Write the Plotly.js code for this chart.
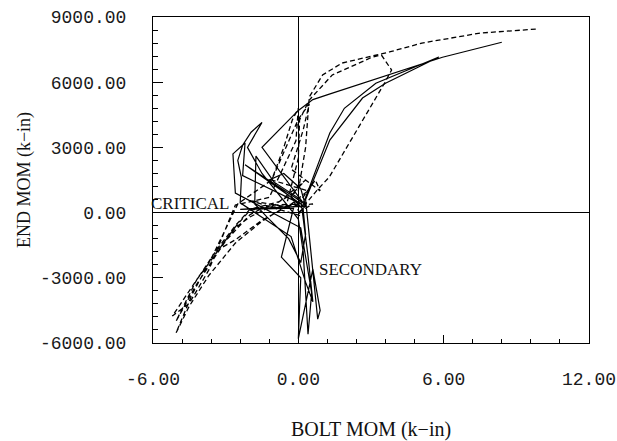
<!DOCTYPE html>
<html>
<head>
<meta charset="utf-8">
<script src="https://cdn.plot.ly/plotly-3.0.1.min.js"></script>
<style>html,body{margin:0;padding:0;background:#fff;}#chart{width:617px;height:441px;}</style>
</head>
<body>
<div id="chart"></div>
<script>
// Secondary bolt (solid line)
var secX = [0.0, 0.3, 0.1, -0.6, -1.2, -0.3, 0.2, 0.3, 0.1, -0.4, -1.3, -1.8, -1.75, -1.0, 0.1, 0.4, 0.6, 0.3, -0.3, -2.4, -2.35, -2.5, -2.3, -1.95, -1.5, -2.1, -1.5, 0.0, 0.2, 0.4, 0.55, 0.1, -2.6, -2.7, -2.2, -2.3, 0.1, -2.2, 0.2, 0.3, 1.3, 1.9, 3.2, 5.8, 3.6, 2.65, 1.3, 0.3, 0.8, 0.9, 0.6, 0.0, 0.1, -0.7, -0.2, -2.4, 0.3, -1.5, 0.0, 0.6, 1.28, 5.95, 8.4];
var secY = [0, 300, 1100, 1800, 1500, 700, 150, -1000, -2300, -1200, -200, 400, 2600, 1400, 600, -2000, -4100, -3200, -1100, 450, 1600, 2400, 3100, 3700, 4150, 3000, 1800, -300, -1800, -5600, -3700, -700, 900, 2700, 3200, 1700, 400, 2200, 450, 700, 3660, 4800, 5950, 7160, 5950, 5270, 3340, 600, -4900, -4500, -2600, -5800, -3000, -2050, 200, 150, 300, 3000, 4700, 5200, 5450, 7150, 7840];

// Critical bolt (dashed line)
var critX = [0.0, 0.6, -0.4, -1.4, -2.0, -0.8, 0.1, -0.3, 0.3, -0.9, -2.0, -2.6, -3.3, -2.6, -1.5, -0.4, 0.4, -1.1, -0.6, -0.25, 0.0, -0.1, -1.2, -2.6, -3.7, -4.5, -5.2, -4.2, -3.3, -2.6, -2.0, -1.0, 0.0, 0.7, 0.9, -0.3, 0.2, 0.45, 0.0, -1.1, -2.5, -3.5, -4.4, -5.05, -4.5, -3.7, -2.6, -1.5, -0.5, 0.0, 0.05, 0.45, 1.4, 3.06, 3.43, 3.85, 3.56, 1.28, 0.75, 0.3, -1.5, -2.0, -3.0, -4.2, -5.05, -4.2, -3.3, -2.6, -2.0, -0.8, 0.0, 0.3, 0.45, 1.0, 1.8, 3.06, 3.76, 5.1, 7.5, 9.9];
var critY = [0, 400, 250, 450, 550, 150, -150, 800, 1500, 400, -200, -700, -1700, -1250, -350, 300, 1000, 1500, 3000, 4260, 4800, 3300, 700, 350, -2650, -4170, -4760, -3100, -1730, -660, 100, 350, 400, 1500, 1000, 2000, 3800, 5000, 4300, 1500, 400, -1900, -3800, -5540, -4300, -2900, -1400, -400, 300, 2500, 4260, 5180, 6330, 7160, 7250, 6560, 5960, 1640, 1000, 400, 200, -100, -1300, -3300, -5000, -3100, -1600, -600, 150, 500, 1000, 3000, 5320, 6330, 6880, 7200, 7390, 7800, 8260, 8450];

var xTickVals = [-6, 0, 6, 12];
var xTickText = ['-6.00', '0.00', '6.00', '12.00'];
var yTickVals = [-6000, -3000, 0, 3000, 6000, 9000];
var yTickText = ['-6000.00', '-3000.00', '0.00', '3000.00', '6000.00', '9000.00'];

var traces = [
  {x: secX, y: secY, mode: 'lines', name: 'SECONDARY', line: {color: '#000', width: 1.2}},
  {x: critX, y: critY, mode: 'lines', name: 'CRITICAL', line: {color: '#000', width: 1.3, dash: '5px,3px'}}
];

var tickFont = {family: '"Liberation Mono", "Courier New", monospace', size: 18, color: '#1a1a1a'};
var serif = '"Liberation Serif", "Times New Roman", serif';

var layout = {
  width: 617, height: 441,
  margin: {l: 153, r: 28, t: 17, b: 98},
  paper_bgcolor: '#fff', plot_bgcolor: '#fff',
  showlegend: false,
  xaxis: {
    range: [-6, 12], tickmode: 'array', tickvals: xTickVals, ticktext: xTickText,
    ticks: 'inside', ticklen: 8, tickcolor: '#000', tickfont: tickFont,
    ticklabelstandoff: 19,
    minor: {dtick: 1.2, tick0: -6, ticks: 'inside', ticklen: 4, tickcolor: '#000', showgrid: false},
    showgrid: false, zeroline: true, zerolinecolor: '#000', zerolinewidth: 1,
    showline: true, mirror: true, linecolor: '#000', linewidth: 1,
    title: {text: 'BOLT MOM (k\u2212in)', font: {family: serif, size: 20, color: '#111'}, standoff: 34}
  },
  yaxis: {
    range: [-6000, 9000], tickmode: 'array', tickvals: yTickVals, ticktext: yTickText,
    ticks: 'inside', ticklen: 10, tickcolor: '#000', tickfont: tickFont,
    ticklabelstandoff: 22,
    minor: {dtick: 600, tick0: -6000, ticks: 'inside', ticklen: 5, tickcolor: '#000', showgrid: false},
    showgrid: false, zeroline: true, zerolinecolor: '#000', zerolinewidth: 1,
    showline: true, mirror: true, linecolor: '#000', linewidth: 1,
    title: {text: 'END MOM (k\u2212in)', font: {family: serif, size: 18, color: '#111'}, standoff: 4}
  },
  annotations: [
    {x: -4.47, y: 440, xref: 'x', yref: 'y', text: 'CRITICAL', showarrow: false,
     font: {family: serif, size: 17, color: '#111'}},
    {x: 2.98, y: -2640, xref: 'x', yref: 'y', text: 'SECONDARY', showarrow: false,
     font: {family: serif, size: 17, color: '#111'}}
  ]
};

Plotly.newPlot('chart', traces, layout, {staticPlot: true, displayModeBar: false});
</script>
</body>
</html>
